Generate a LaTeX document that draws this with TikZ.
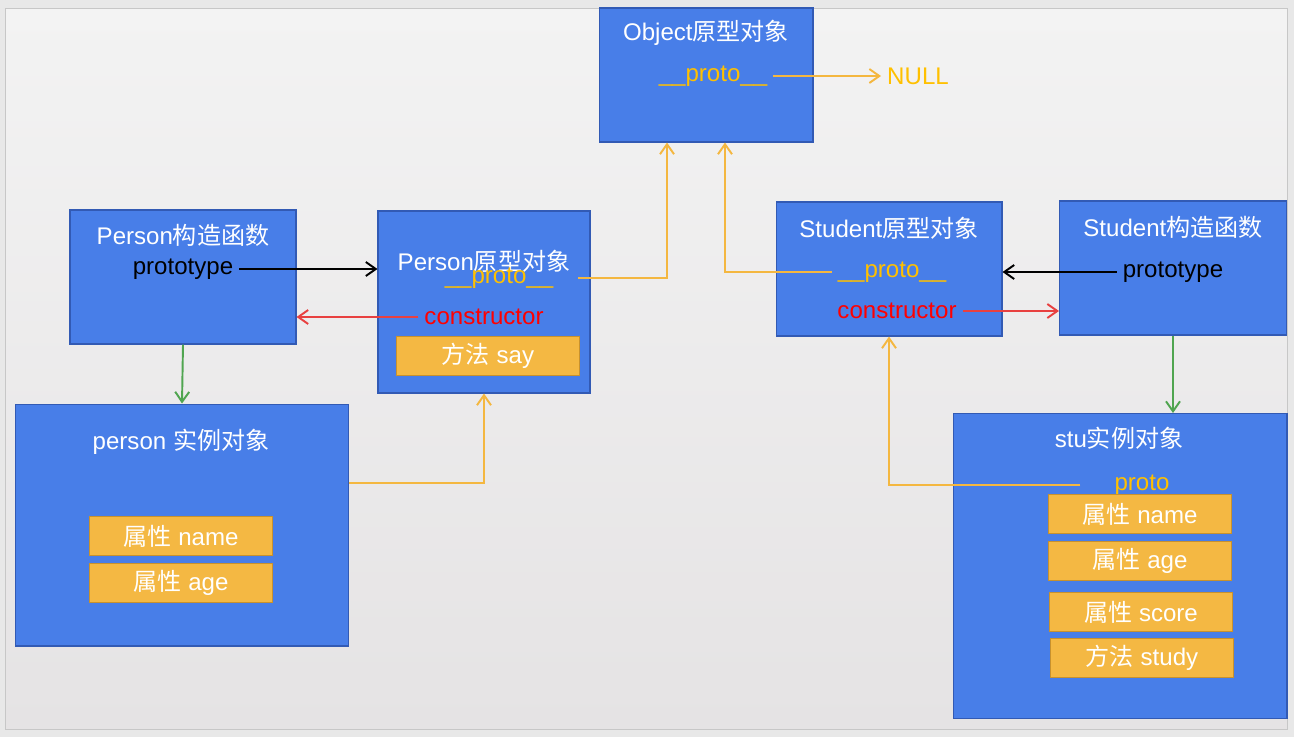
\documentclass[tikz,border=0pt]{standalone}
\usepackage{fontspec}
\setmainfont{Liberation Sans}
\newfontfamily\cjk{Noto Sans CJK SC}
\usetikzlibrary{arrows.meta}

\definecolor{outerbg}{RGB}{232,232,232}
\definecolor{slidetop}{RGB}{243,243,243}
\definecolor{slidebot}{RGB}{229,227,228}
\definecolor{boxblue}{RGB}{72,126,232}
\definecolor{boxedge}{RGB}{50,90,180}
\definecolor{itemfill}{RGB}{244,184,67}
\definecolor{itemedge}{RGB}{200,145,45}
\definecolor{protoclr}{RGB}{255,192,0}
\definecolor{protoline}{RGB}{244,183,64}
\definecolor{ctorred}{RGB}{232,64,64}
\definecolor{downgreen}{RGB}{80,165,80}
\newcommand\diagfont{\fontsize{13.7}{16}\selectfont}

\begin{document}
\begin{tikzpicture}[
    x=0.02cm, y=-0.02cm,
    box/.style={draw=boxedge, fill=boxblue, line width=0.6pt, inner sep=0pt},
    item/.style={draw=itemedge, fill=itemfill, line width=0.6pt,
                 minimum width=3.66cm, minimum height=0.78cm,
                 text=white, font=\diagfont},
    ttl/.style={text=white, font=\diagfont},
    ptxt/.style={font=\diagfont},
    prx/.style={text=protoclr, font=\diagfont},
    ctx/.style={text=red, font=\diagfont},
    link/.style={line width=1.1pt, ->},
    >={Straight Barb[length=0.2cm, width=0.28cm]}
  ]
  % Background slide
  \useasboundingbox (0,0) rectangle (1294,737);
  \fill[outerbg] (0,0) rectangle (1294,737);
  \shade[top color=slidetop, bottom color=slidebot, draw=black!22]
    (5,8) rectangle (1287,729);

  % Object prototype
  \node[box, minimum width=4.28cm, minimum height=2.68cm] (obj) at (706,75) {};
  \node[ttl] at (706,33) {Object{\cjk 原型对象}};
  \node[prx] (objp) at (713,76) {\_\_proto\_\_};
  \node[prx] (null) at (918,76) {NULL};

  % Person constructor
  \node[box, minimum width=4.52cm, minimum height=2.68cm] (pctor) at (183,277) {};
  \node[ttl] at (183,235) {Person{\cjk 构造函数}};
  \node[ptxt] (pctorp) at (183,269) {prototype};

  % Person prototype
  \node[box, minimum width=4.24cm, minimum height=3.64cm] (pproto) at (484,302) {};
  \node[ttl] at (484,261) {Person{\cjk 原型对象}};
  \node[prx] (pprotop) at (499,278) {\_\_proto\_\_};
  \node[ctx] (pprotoc) at (484,317) {constructor};
  \node[item] (say) at (488,356) {{\cjk 方法} say};

  % person instance
  \node[box, minimum width=6.66cm, minimum height=4.84cm] (pinst) at (182,525) {};
  \node[ttl] at (181,442) {person {\cjk 实例对象}};
  \node[item] (pname) at (181,536) {{\cjk 属性} name};
  \node[item] (page) at (181,583) {{\cjk 属性} age};

  % Student prototype
  \node[box, minimum width=4.52cm, minimum height=2.68cm] (sproto) at (889,269) {};
  \node[ttl] at (889,228) {Student{\cjk 原型对象}};
  \node[prx] (sprotop) at (892,272) {\_\_proto\_\_};
  \node[ctx] (sprotoc) at (897,311) {constructor};

  % Student constructor
  \node[box, minimum width=4.54cm, minimum height=2.68cm] (sctor) at (1173,268) {};
  \node[ttl] at (1173,227) {Student{\cjk 构造函数}};
  \node[ptxt] (sctorp) at (1173,272) {prototype};

  % stu instance
  \node[box, minimum width=6.68cm, minimum height=6.1cm] (sinst) at (1120,566) {};
  \node[ttl] at (1119,438) {stu{\cjk 实例对象}};
  \node[prx] (sinstp) at (1142,485) {proto};
  \node[item] (sname) at (1140,514) {{\cjk 属性} name};
  \node[item] (sage) at (1140,561) {{\cjk 属性} age};
  \node[item] (sscore) at (1141,612) {{\cjk 属性} score};
  \node[item] (sstudy) at (1142,658) {{\cjk 方法} study};

  % prototype / constructor links
  \draw[link] (pctorp.east) -- (pctorp.east -| pproto.west);
  \draw[link, ctorred] (pprotoc.west) -- (pprotoc.west -| pctor.east);
  \draw[link] (sctorp.west) -- (sctorp.west -| sproto.east);
  \draw[link, ctorred] (sprotoc.east) -- (sprotoc.east -| sctor.west);

  % new instances
  \draw[link, downgreen] (pctor.south) -- (pinst.north);
  \draw[link, downgreen] (sctor.south) -- (sctor.south |- sinst.north);

  % proto chain
  \draw[link, protoline] ([yshift=0.84cm]pinst.east) -| (pproto.south);
  \draw[link, protoline] ([xshift=0.38cm]pprotop.east) -| ([xshift=-0.78cm]obj.south);
  \draw[link, protoline] (sprotop.west) -| ([xshift=0.38cm]obj.south);
  \draw[link, protoline] ([xshift=-0.56cm]sinstp.west) -| (sproto.south);
  \draw[link, protoline] (objp.east) -- (null.west);
\end{tikzpicture}
\end{document}
